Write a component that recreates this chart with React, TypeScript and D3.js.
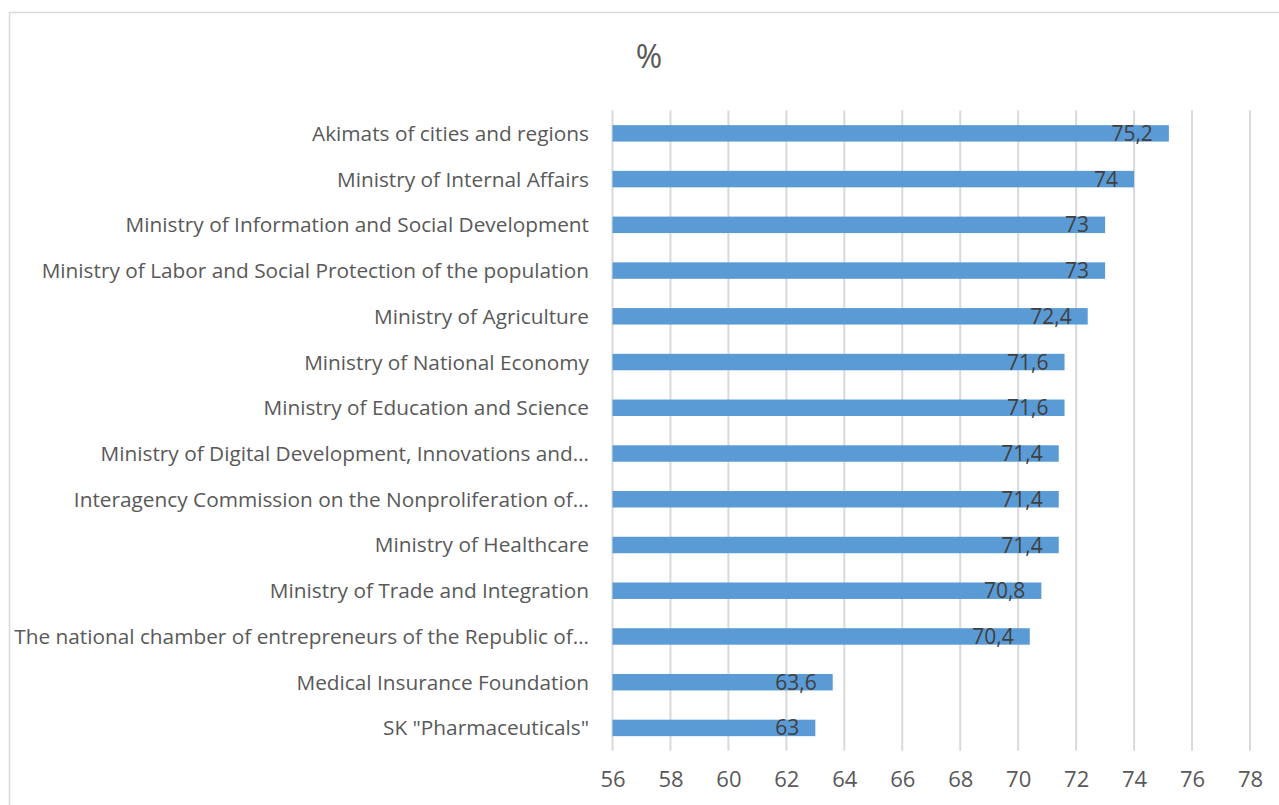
import React, { useEffect, useRef } from "react";
import * as d3 from "d3";

const categories = [
  "Akimats of cities and regions",
  "Ministry of Internal Affairs",
  "Ministry of Information and Social Development",
  "Ministry of Labor and Social Protection of the population",
  "Ministry of Agriculture",
  "Ministry of National Economy",
  "Ministry of Education and Science",
  "Ministry of Digital Development, Innovations and…",
  "Interagency Commission on the Nonproliferation of…",
  "Ministry of Healthcare",
  "Ministry of Trade and Integration",
  "The national chamber of entrepreneurs of the Republic of…",
  "Medical Insurance Foundation",
  "SK \"Pharmaceuticals\"",
];

const values = [75.2, 74, 73, 73, 72.4, 71.6, 71.6, 71.4, 71.4, 71.4, 70.8, 70.4, 63.6, 63];

const xTicks = [56, 58, 60, 62, 64, 66, 68, 70, 72, 74, 76, 78];

const W = 1279;
const H = 805;
const FONT = "'Open Sans', 'DejaVu Sans', sans-serif";

export default function App() {
  const svgRef = useRef<SVGSVGElement | null>(null);

  useEffect(() => {
    if (!svgRef.current) return;
    const svg = d3.select(svgRef.current);
    svg.selectAll("*").remove();

    const x = d3.scaleLinear().domain([56, 78]).range([612.5, 1250]);
    const y = d3
      .scaleBand()
      .domain(categories)
      .range([110.5, 750.8])
      .paddingInner(0.64)
      .paddingOuter(0.32);

    // chart border (only top/left visible in the crop)
    svg
      .append("path")
      .attr("d", `M9.5,${H} V12.5 H${W}`)
      .attr("fill", "none")
      .attr("stroke", "#d9d9d9")
      .attr("stroke-width", 1.5);

    // title
    svg
      .append("text")
      .attr("x", 649)
      .attr("y", 68)
      .attr("text-anchor", "middle")
      .attr("font-family", FONT)
      .attr("font-size", 32)
      .attr("fill", "#595959")
      .text("%");

    // gridlines
    svg
      .append("g")
      .selectAll("line")
      .data(xTicks)
      .join("line")
      .attr("x1", d => x(d))
      .attr("x2", d => x(d))
      .attr("y1", 110.5)
      .attr("y2", 750.8)
      .attr("stroke", "#d9d9d9")
      .attr("stroke-width", 2);

    // x axis labels
    const xAxis = svg
      .append("g")
      .attr("transform", `translate(0,750.8)`)
      .call(d3.axisBottom(x).tickValues(xTicks).tickSize(0).tickPadding(21));
    xAxis.select(".domain").remove();
    xAxis
      .selectAll("text")
      .attr("font-family", FONT)
      .attr("font-size", 22)
      .attr("fill", "#595959");

    // bars
    svg
      .append("g")
      .selectAll("rect")
      .data(values)
      .join("rect")
      .attr("x", x(56))
      .attr("y", (_, i) => y(categories[i])!)
      .attr("width", d => x(d) - x(56))
      .attr("height", y.bandwidth())
      .attr("fill", "#5b9bd5");

    // value labels
    svg
      .append("g")
      .selectAll("text")
      .data(values)
      .join("text")
      .attr("x", d => x(d) - 16)
      .attr("y", (_, i) => y(categories[i])! + y.bandwidth() / 2)
      .attr("dy", "0.36em")
      .attr("text-anchor", "end")
      .attr("font-family", FONT)
      .attr("font-size", 21)
      .attr("fill", "#404040")
      .text(d => String(d).replace(".", ","));

    // category labels
    svg
      .append("g")
      .selectAll("text")
      .data(categories)
      .join("text")
      .attr("x", 589)
      .attr("y", d => y(d)! + y.bandwidth() / 2)
      .attr("dy", "0.36em")
      .attr("text-anchor", "end")
      .attr("font-family", FONT)
      .attr("font-size", 20.8)
      .attr("fill", "#595959")
      .text(d => d);
  }, []);

  return (
    <svg
      ref={svgRef}
      width={W}
      height={H}
      style={{ position: "absolute", left: 0, top: 0, background: "#fff" }}
    />
  );
}
